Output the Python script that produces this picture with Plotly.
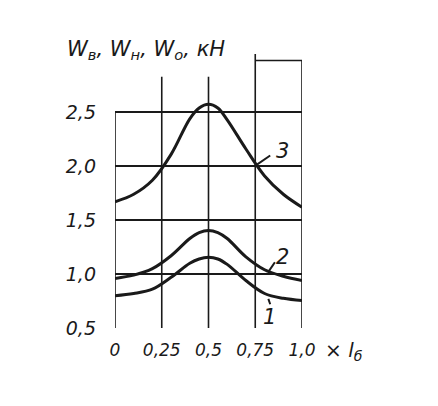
import plotly.graph_objects as go

x_vals = [0, 0.1, 0.2, 0.3, 0.4, 0.45, 0.5, 0.55, 0.6, 0.7, 0.8, 0.9, 1.0]
w3 = [1.67, 1.74, 1.87, 2.11, 2.44, 2.54, 2.575, 2.54, 2.43, 2.16, 1.91, 1.74, 1.62]
w2 = [0.96, 0.99, 1.05, 1.17, 1.33, 1.385, 1.405, 1.385, 1.33, 1.16, 1.04, 0.98, 0.94]
w1 = [0.80, 0.82, 0.86, 0.97, 1.10, 1.14, 1.155, 1.14, 1.09, 0.94, 0.82, 0.775, 0.755]

y_tickvals = [0.5, 1.0, 1.5, 2.0, 2.5]
y_ticktext = ["0,5", "1,0", "1,5", "2,0", "2,5"]
x_tickvals = [0, 0.25, 0.5, 0.75, 1.0]
x_ticktext = ["0", "0,25", "0,5", "0,75", "1,0"]

INK = "#1a1a1a"
FONT = "DejaVu Sans"

fig = go.Figure()
for ys in (w3, w2, w1):
    fig.add_trace(go.Scatter(x=x_vals, y=ys, mode="lines",
                             line=dict(color=INK, width=3, shape="spline", smoothing=1.0),
                             showlegend=False, hoverinfo="skip"))

# vertical grid segments (hand-drawn frame)
vtops = {0: 2.5, 0.25: 2.83, 0.5: 2.83, 0.75: 3.04, 1.0: 2.98}
for xv, top in vtops.items():
    fig.add_shape(type="line", x0=xv, x1=xv, y0=0.5, y1=top, xref="x", yref="y",
                  line=dict(color=INK, width=1.6))
fig.add_shape(type="line", x0=0.75, x1=1.0, y0=2.98, y1=2.98, xref="x", yref="y",
              line=dict(color=INK, width=1.6))

# leader lines for curve labels
leaders = [((0.755, 2.01), (0.83, 2.10)), ((0.82, 1.02), (0.855, 1.11)), ((0.82, 0.77), (0.83, 0.72))]
for (a, b) in leaders:
    fig.add_shape(type="line", x0=a[0], y0=a[1], x1=b[0], y1=b[1], xref="x", yref="y",
                  line=dict(color=INK, width=2))

labels = [("3", 0.895, 2.14), ("2", 0.895, 1.16), ("1", 0.825, 0.6)]
for t, xv, yv in labels:
    fig.add_annotation(x=xv, y=yv, text=t, showarrow=False, xref="x", yref="y",
                       font=dict(family=FONT, size=21, color=INK, style="italic"))

fig.add_annotation(xref="paper", yref="paper", x=-0.27, y=1.01, xanchor="left", yanchor="middle",
                   text="W<sub>в</sub>, W<sub>н</sub>, W<sub>о</sub>, кН", showarrow=False,
                   font=dict(family=FONT, size=21, color=INK, style="italic"))
fig.add_annotation(xref="paper", yref="paper", x=1.11, y=-0.085, xanchor="left", yanchor="middle",
                   text="× <i>l</i><sub>б</sub>", showarrow=False,
                   font=dict(family=FONT, size=20, color=INK, style="italic"))

fig.update_layout(
    width=438, height=406,
    margin=dict(l=107, r=144, t=45, b=86),
    paper_bgcolor="white", plot_bgcolor="white",
    font=dict(family=FONT, color=INK, style="italic"),
    xaxis=dict(range=[0, 1.0], tickvals=x_tickvals, ticktext=x_ticktext, showgrid=False,
               zeroline=False, showline=False, ticks="", ticklabelstandoff=10,
               tickfont=dict(size=17, family=FONT, color=INK, style="italic")),
    yaxis=dict(range=[0.5, 3.05], tickvals=y_tickvals, ticktext=y_ticktext, showgrid=True,
               gridcolor=INK, gridwidth=1.6, zeroline=False, showline=False, ticks="",
               ticklabelstandoff=18,
               tickfont=dict(size=19, family=FONT, color=INK, style="italic")),
)

fig.write_html("out.html")
